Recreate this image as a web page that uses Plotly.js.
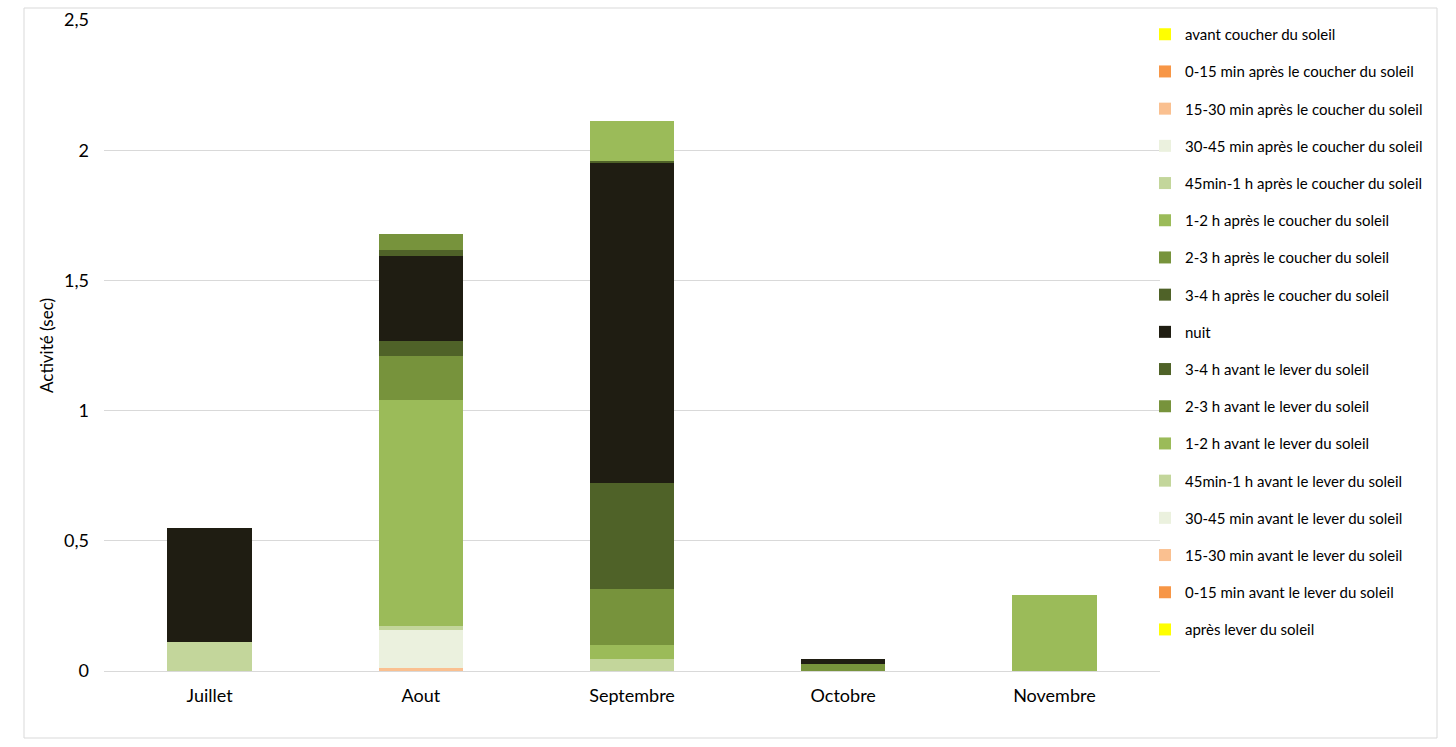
<!DOCTYPE html>
<html>
<head>
<meta charset="utf-8">
<script src="https://cdn.plot.ly/plotly-3.0.1.min.js"></script>
<style>
html,body{margin:0;padding:0;background:#fff;}
#chart{width:1456px;height:747px;}
</style>
</head>
<body>
<div id="chart"></div>
<script>
// Categories (months)
const categories = ['Juillet', 'Aout', 'Septembre', 'Octobre', 'Novembre'];

// Series values, in stacking order (bottom to top)
const apresLever      = [0, 0, 0, 0, 0];
const avant0_15       = [0, 0, 0, 0, 0];
const avant15_30      = [0, 0.010, 0, 0, 0];
const avant30_45      = [0, 0.147, 0, 0, 0];
const avant45_1h      = [0.113, 0.015, 0.045, 0, 0];
const avant1_2h       = [0, 0.868, 0.055, 0, 0.292];
const avant2_3h       = [0, 0.169, 0.214, 0.026, 0];
const avant3_4h       = [0, 0.057, 0.407, 0, 0];
const nuit            = [0.435, 0.328, 1.229, 0.020, 0];
const apres3_4h       = [0, 0.024, 0.008, 0, 0];
const apres2_3h       = [0, 0.062, 0, 0, 0];
const apres1_2h       = [0, 0, 0.156, 0, 0];
const apres45_1h      = [0, 0, 0, 0, 0];
const apres30_45      = [0, 0, 0, 0, 0];
const apres15_30      = [0, 0, 0, 0, 0];
const apres0_15       = [0, 0, 0, 0, 0];
const avantCoucher    = [0, 0, 0, 0, 0];

// Series names
const seriesNames = [
  'après lever du soleil',
  '0-15 min avant le lever du soleil',
  '15-30 min avant le lever du soleil',
  '30-45 min avant le lever du soleil',
  '45min-1 h avant le lever du soleil',
  '1-2 h avant le lever du soleil',
  '2-3 h avant le lever du soleil',
  '3-4 h avant le lever du soleil',
  'nuit',
  '3-4 h après le coucher du soleil',
  '2-3 h après le coucher du soleil',
  '1-2 h après le coucher du soleil',
  '45min-1 h après le coucher du soleil',
  '30-45 min après le coucher du soleil',
  '15-30 min après le coucher du soleil',
  '0-15 min après le coucher du soleil',
  'avant coucher du soleil'
];
const seriesValues = [apresLever, avant0_15, avant15_30, avant30_45, avant45_1h, avant1_2h,
  avant2_3h, avant3_4h, nuit, apres3_4h, apres2_3h, apres1_2h, apres45_1h, apres30_45,
  apres15_30, apres0_15, avantCoucher];
const seriesColors = ['#FFFF00', '#F79646', '#FAC090', '#EBF1DE', '#C3D69B', '#9BBB59',
  '#77933C', '#4F6228', '#1F1D12', '#4F6228', '#77933C', '#9BBB59', '#C3D69B', '#EBF1DE',
  '#FAC090', '#F79646', '#FFFF00'];

const N = seriesNames.length;
const traces = seriesNames.map((name, i) => ({
  type: 'bar',
  name: name,
  x: categories,
  y: seriesValues[i],
  legendgroup: 'g' + i,
  legendrank: N - i,
  marker: {color: seriesColors[i], line: {width: 0}},
  hoverinfo: 'name+y'
}));

const W = 1456, H = 747;
const mL = 104, mR = W - 1160, mT = 20, mB = H - 671;
const pw = W - mL - mR, ph = H - mT - mB;

const layout = {
  width: W, height: H,
  margin: {l: mL, r: mR, t: mT, b: mB, pad: 0},
  paper_bgcolor: '#ffffff',
  plot_bgcolor: '#ffffff',
  barmode: 'stack',
  bargap: 0.6,
  separators: ', ',
  font: {family: 'Lato, "Open Sans", sans-serif', size: 15, color: '#000000'},
  xaxis: {
    type: 'category',
    showgrid: false,
    showline: true, linecolor: '#d9d9d9', linewidth: 1,
    ticks: '', ticklen: 0,
    ticklabelstandoff: 8,
    tickfont: {size: 18, color: '#000'},
    fixedrange: true
  },
  yaxis: {
    range: [0, 2.5],
    dtick: 0.5,
    tick0: 0,
    showgrid: true, gridcolor: '#d9d9d9', gridwidth: 1,
    zeroline: false,
    showline: false,
    ticks: '',
    ticklabelstandoff: 14,
    tickfont: {size: 18, color: '#000'},
    title: {text: 'Activité (sec)', font: {size: 17, color: '#000'}, standoff: 6},
    fixedrange: true
  },
  legend: {
    x: (1145 - mL) / pw,
    xanchor: 'left',
    y: (671 - 18) / ph,
    yanchor: 'top',
    maxheight: 720,
    traceorder: 'grouped',
    tracegroupgap: 14.7,
    font: {size: 15, color: '#000'},
    bgcolor: 'rgba(0,0,0,0)',
    itemwidth: 30
  },
  shapes: [{
    type: 'rect', xref: 'paper', yref: 'paper',
    x0: (24 - mL) / pw, x1: (1437 - mL) / pw,
    y0: (671 - 738) / ph, y1: (671 - 8) / ph,
    line: {color: '#d9d9d9', width: 1},
    fillcolor: 'rgba(0,0,0,0)',
    layer: 'below'
  }],
  showlegend: true
};

Plotly.newPlot('chart', traces, layout, {displayModeBar: false, staticPlot: true});
</script>
</body>
</html>
